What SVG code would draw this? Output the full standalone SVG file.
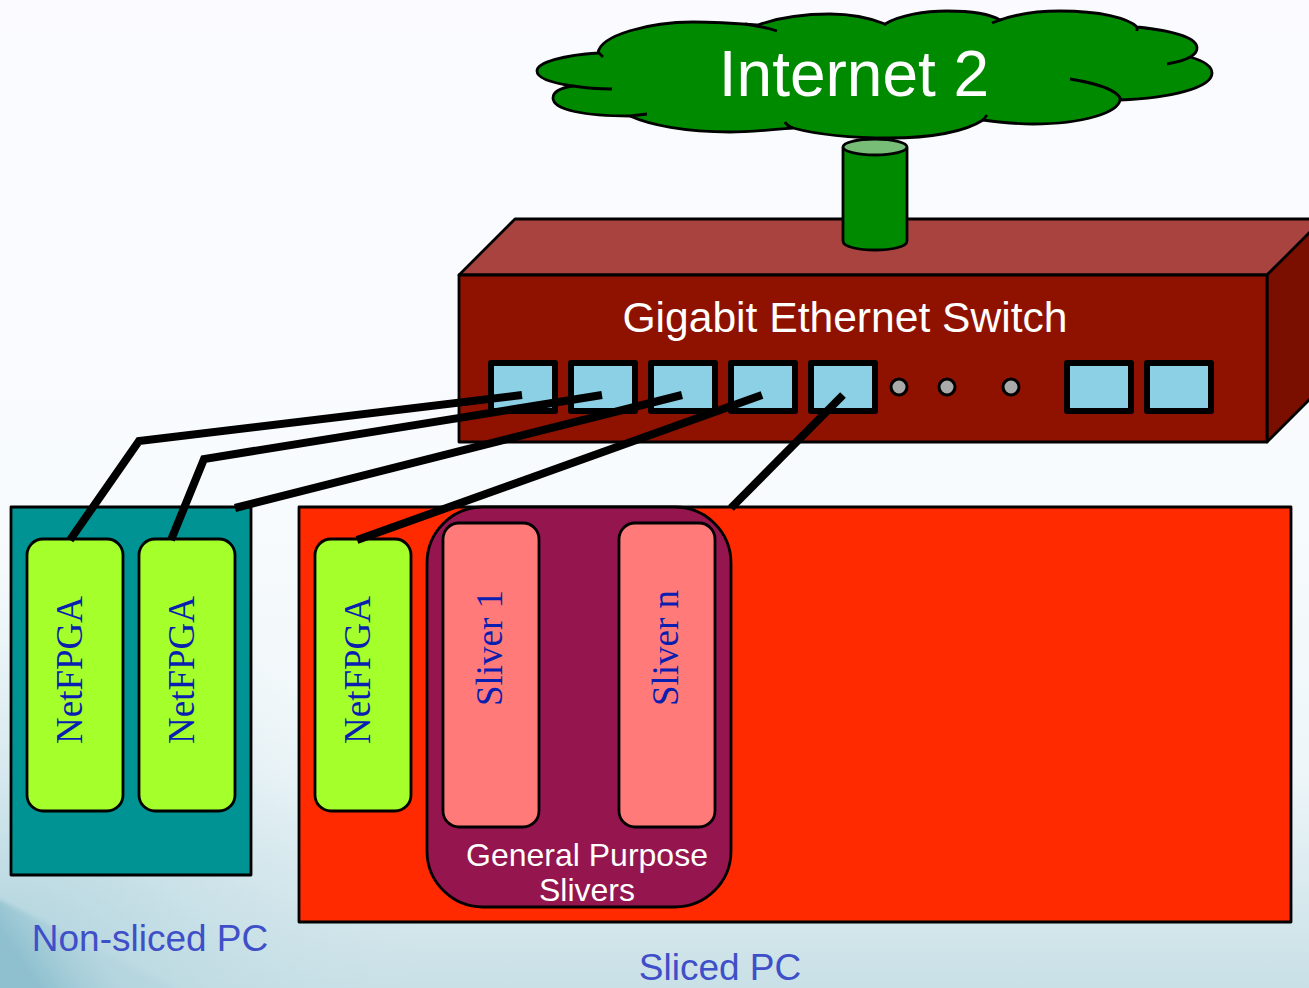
<svg xmlns="http://www.w3.org/2000/svg" width="1309" height="988" viewBox="0 0 1309 988">
<defs>
<linearGradient id="bg" x1="0" y1="0" x2="0" y2="1">
<stop offset="0" stop-color="#fbfbff"/><stop offset="0.5" stop-color="#f8fbfd"/><stop offset="0.78" stop-color="#eef6f9"/><stop offset="1" stop-color="#c8e0e6"/>
</linearGradient>
<radialGradient id="shade" cx="0" cy="988" r="420" gradientUnits="userSpaceOnUse">
<stop offset="0" stop-color="#a9cfda" stop-opacity="0.9"/><stop offset="1" stop-color="#c8e0e6" stop-opacity="0"/>
</radialGradient>
<linearGradient id="corner" x1="95" y1="950" x2="40" y2="988" gradientUnits="userSpaceOnUse">
<stop offset="0" stop-color="#a8cfda" stop-opacity="0.3"/><stop offset="1" stop-color="#8fc0cf"/>
</linearGradient>
<filter id="soft" x="-20%" y="-20%" width="140%" height="140%"><feGaussianBlur stdDeviation="2"/></filter>
<style>
.s{stroke:#000;stroke-width:2.8;stroke-linejoin:round}
.port{fill:#8bd0e4;stroke:#000;stroke-width:6;stroke-linejoin:round}
.dot{fill:#aaa;stroke:#000;stroke-width:3}
.card{fill:#a5ff2a;stroke:#000;stroke-width:2.8}
.sliver{fill:#ff7a78;stroke:#000;stroke-width:2.8}
.cx{fill:none;stroke:#000;stroke-width:8;stroke-linejoin:miter}
text{font-family:"Liberation Sans",Arial,sans-serif}
.v{font-family:"Liberation Serif","Times New Roman",serif;font-size:37px;fill:#0a1eb0;text-anchor:middle}
.w{fill:#fff;text-anchor:middle}
.b{fill:#3f4fc8;text-anchor:middle;font-size:37px}
</style>
</defs>
<rect width="1309" height="988" fill="url(#bg)"/>
<rect y="560" width="430" height="428" fill="url(#shade)"/>
<path d="M-10 895Q100 950 190 995H-10Z" fill="url(#corner)" filter="url(#soft)"/>
<g id="cloud">
<path class="s" fill="#008a00" d="M598 53C600 35 650 22 693 22C720 22 745 24 758 25C780 17 805 14 830 14C850 14 870 18 885 24C900 15 925 11 947 11C970 11 990 14 1000 20C1020 13 1040 11 1060 11C1100 11 1128 18 1137 27C1175 31 1197 38 1197 48C1197 52 1194 55 1190 57C1204 61 1212 66 1212 73C1212 88 1170 98 1120 100C1118 112 1085 124 1033 124C1015 124 998 122 983 120C965 132 930 138 890 138C850 138 815 134 793 128C770 130 750 132 730 132C685 132 650 125 630 116C585 116 553 110 553 98C553 92 560 88 573 86C552 83 537 78 537 71C537 62 565 55 598 53Z"/>
<path fill="none" stroke="#000" stroke-width="2.8" d="M603 57L598 52M745 24Q765 27 777 31M612 89C600 89 585 88 573 86M647 114L630 116M793 128C788 126 786 124 785 122M885 24L884 25M992 23L1003 19M1137 27L1137 31M1190 57C1185 60 1178 62 1167 64M1121 100C1118 90 1095 83 1070 79M987 115L983 120"/>
<text class="w" x="854" y="96" font-size="64">Internet 2</text>
</g>
<g id="switch">
<path class="s" fill="#a84340" d="M459 275L515 219H1312V232L1267 275Z"/>
<path class="s" fill="#7a0f00" d="M1267 275L1312 230V397L1267 442Z"/>
<rect class="s" fill="#8f1200" x="459" y="275" width="808" height="167"/>
<text class="w" x="845" y="332" font-size="42.6">Gigabit Ethernet Switch</text>
<rect class="port" x="491" y="363" width="64" height="48"/>
<rect class="port" x="571" y="363" width="64" height="48"/>
<rect class="port" x="651" y="363" width="64" height="48"/>
<rect class="port" x="731" y="363" width="64" height="48"/>
<rect class="port" x="811" y="363" width="64" height="48"/>
<rect class="port" x="1067" y="363" width="64" height="48"/>
<rect class="port" x="1147" y="363" width="64" height="48"/>
<circle class="dot" cx="899" cy="387" r="8"/>
<circle class="dot" cx="947" cy="387" r="8"/>
<circle class="dot" cx="1011" cy="387" r="8"/>
</g>
<g id="uplink">
<path class="s" fill="#008a00" d="M843 148V241C843 253 907 253 907 241V148Z"/>
<ellipse class="s" fill="#77bd77" cx="875" cy="147" rx="32" ry="8"/>
</g>
<g id="non-sliced-pc">
<rect class="s" fill="#009393" x="11" y="507" width="240" height="368"/>
<text class="b" x="150" y="951">Non-sliced PC</text>
</g>
<g id="sliced-pc">
<rect class="s" fill="#ff2a00" x="299" y="507" width="992" height="415"/>
<text class="b" x="720" y="980">Sliced PC</text>
</g>
<g id="general-purpose-slivers">
<rect class="s" fill="#95154f" x="427" y="507" width="304" height="400" rx="56"/>
<text class="w" x="587" y="866" font-size="32">General Purpose</text>
<text class="w" x="587" y="901" font-size="32">Slivers</text>
</g>
<g id="netfpga-1"><rect class="card" x="27" y="539" width="96" height="272" rx="16"/><text class="v" transform="translate(82 670) rotate(-90)">NetFPGA</text></g>
<g id="netfpga-2"><rect class="card" x="139" y="539" width="96" height="272" rx="16"/><text class="v" transform="translate(194 670) rotate(-90)">NetFPGA</text></g>
<g id="netfpga-3"><rect class="card" x="315" y="539" width="96" height="272" rx="16"/><text class="v" transform="translate(370 670) rotate(-90)">NetFPGA</text></g>
<g id="sliver-1"><rect class="sliver" x="443" y="523" width="96" height="304" rx="16"/><text class="v" transform="translate(502 648) rotate(-90)">Sliver 1</text></g>
<g id="sliver-n"><rect class="sliver" x="619" y="523" width="96" height="304" rx="16"/><text class="v" transform="translate(678 648) rotate(-90)">Sliver n</text></g>
<g id="connectors">
<path class="cx" d="M522 395L139 441L70 540"/>
<path class="cx" d="M602 395L204 459L171 540"/>
<path class="cx" d="M682 395L235 508"/>
<path class="cx" d="M762 395L357 540"/>
<path class="cx" d="M843 395L731 508"/>
</g>
</svg>
